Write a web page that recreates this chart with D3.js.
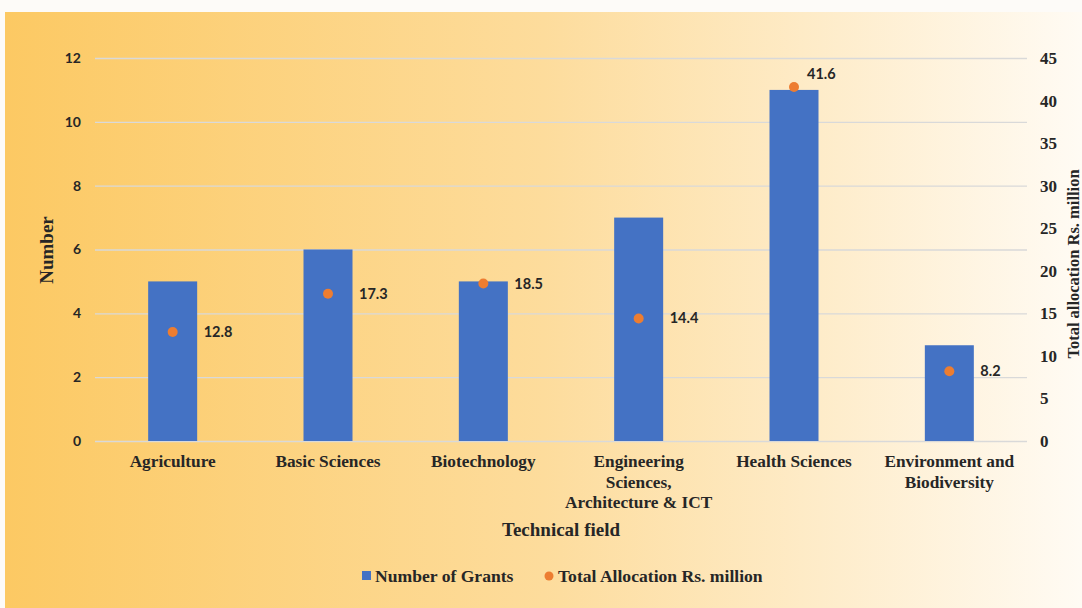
<!DOCTYPE html>
<html><head><meta charset="utf-8">
<script src="https://cdn.jsdelivr.net/npm/d3@7"></script>
<style>html,body{margin:0;padding:0;background:#fdfbf8;}svg{display:block;}
.serif{font-family:"Liberation Serif","Times New Roman",Times,"DejaVu Serif",serif;font-weight:bold;fill:#262626;}
.sans{font-family:Lato,"Open Sans",sans-serif;font-weight:bold;fill:#262626;}
</style>
</head><body>
<svg id="chart" width="1082" height="608"></svg>
<script>
const categories = [["Agriculture"],["Basic Sciences"],["Biotechnology"],["Engineering","Sciences,","Architecture & ICT"],["Health Sciences"],["Environment and","Biodiversity"]];
const grants = [5, 6, 5, 7, 11, 3];
const allocation = [12.8, 17.3, 18.5, 14.4, 41.6, 8.2];
const leftTicks = [0, 2, 4, 6, 8, 10, 12];
const rightTicks = [0, 5, 10, 15, 20, 25, 30, 35, 40, 45];

const svg = d3.select("#chart");
const defs = svg.append("defs");
const grad = defs.append("linearGradient").attr("id","bg").attr("x1","0").attr("x2","1").attr("y1","0").attr("y2","0");
grad.append("stop").attr("offset","0").attr("stop-color","#fcc963");
grad.append("stop").attr("offset","0.5").attr("stop-color","#fddc9c");
grad.append("stop").attr("offset","1").attr("stop-color","#fffbf4");
svg.append("rect").attr("x",0).attr("y",0).attr("width",1082).attr("height",608).attr("fill","#fdfbf8");
svg.append("rect").attr("x",5).attr("y",12).attr("width",1077).attr("height",596).attr("fill","url(#bg)");

const m = {left:95, right:1027, top:58, bottom:441};
const x = d3.scaleBand().domain(d3.range(categories.length)).range([m.left, m.right]).paddingInner(0).paddingOuter(0);
const yL = d3.scaleLinear().domain([0,12]).range([m.bottom, m.top]);
const yR = d3.scaleLinear().domain([0,45]).range([m.bottom, m.top]);

// gridlines
svg.append("g").selectAll("line").data(leftTicks).join("line")
  .attr("x1", m.left).attr("x2", m.right)
  .attr("y1", d=>yL(d)+0.5).attr("y2", d=>yL(d)+0.5)
  .attr("stroke","#d9d9d9").attr("stroke-width",1.3);

// left axis
const gl = svg.append("g").attr("transform",`translate(${m.left},0)`)
  .call(d3.axisLeft(yL).tickValues(leftTicks).tickSize(0).tickPadding(14));
gl.select(".domain").remove();
gl.selectAll("text").attr("class","sans").attr("font-family",null).attr("font-size","14px").attr("fill",null);

// right axis
const gr = svg.append("g").attr("transform",`translate(${m.right},0)`)
  .call(d3.axisRight(yR).tickValues(rightTicks).tickSize(0).tickPadding(13));
gr.select(".domain").remove();
gr.selectAll("text").attr("class","serif").attr("font-family",null).attr("font-size","17px").attr("fill",null);

// bars
const bw = 49;
svg.append("g").selectAll("rect").data(grants).join("rect")
  .attr("x",(d,i)=>x(i)+x.bandwidth()/2-bw/2)
  .attr("y",d=>yL(d))
  .attr("width",bw)
  .attr("height",d=>yL(0)-yL(d))
  .attr("fill","#4472c4");

// dots
svg.append("g").selectAll("circle").data(allocation).join("circle")
  .attr("cx",(d,i)=>x(i)+x.bandwidth()/2)
  .attr("cy",d=>yR(d))
  .attr("r",5)
  .attr("fill","#ed7d31");

// data labels
const maxA = d3.max(allocation);
svg.append("g").selectAll("text").data(allocation).join("text")
  .attr("class","sans")
  .attr("x",(d,i)=>x(i)+x.bandwidth()/2 + (d===maxA ? 13 : 31))
  .attr("y",d=>yR(d) + (d===maxA ? -8 : 5))
  .attr("font-size","14.5px")
  .text(d=>d.toFixed(1));

// category labels
const cl = svg.append("g");
categories.forEach((lines,i)=>{
  const t = cl.append("text").attr("class","serif").attr("text-anchor","middle").attr("font-size","17.3px");
  lines.forEach((s,j)=>{
    t.append("tspan").attr("x", x(i)+x.bandwidth()/2).attr("y", 467 + j*20.5).text(s);
  });
});

// axis titles
svg.append("text").attr("class","serif").attr("text-anchor","middle").attr("transform","translate(53,250) rotate(-90)")
  .attr("font-size","19px").text("Number");
svg.append("text").attr("class","serif").attr("text-anchor","middle").attr("transform","translate(1079,264) rotate(-90)")
  .attr("font-size","16.5px").text("Total allocation Rs. million");
svg.append("text").attr("class","serif").attr("text-anchor","middle").attr("x",561).attr("y",536)
  .attr("font-size","19px").text("Technical field");

// legend
const lg = svg.append("g");
lg.append("rect").attr("x",362).attr("y",571).attr("width",9).attr("height",9).attr("fill","#4472c4");
lg.append("text").attr("class","serif").attr("font-size","17.6px").attr("x",375).attr("y",582).text("Number of Grants");
lg.append("circle").attr("cx",549).attr("cy",576).attr("r",4.5).attr("fill","#ed7d31");
lg.append("text").attr("class","serif").attr("font-size","17.6px").attr("x",558).attr("y",582).text("Total Allocation Rs. million");
</script>
</body></html>
